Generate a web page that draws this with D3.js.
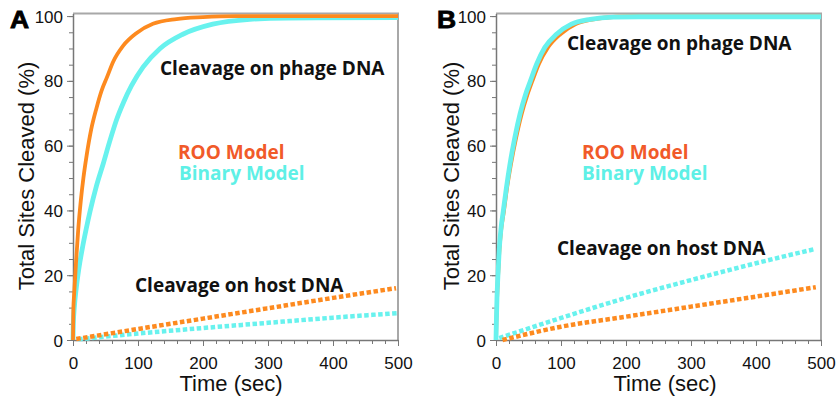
<!DOCTYPE html>
<html lang="en">
<head>
<meta charset="utf-8">
<title>Sites cleaved</title>
<script src="https://cdn.jsdelivr.net/npm/d3@7"></script>
<style>
  body { margin: 0; background: #fff; }
  .tick text { font-family: "Liberation Sans", Arial, sans-serif; font-size: 17px; fill: #111; }
  .note { font-family: "Open Sans", sans-serif; font-weight: 700; }
</style>
</head>
<body>
<script>

// tick values
var yTicks = [0, 20, 40, 60, 80, 100];
var xTicks = [0, 100, 200, 300, 400, 500];

// panel A, [time (sec), % cleaved]
var aPhageRoo = [[0,0],[0.5,9],[2,15],[5,25],[8,34],[12,43],[16,50],[21,57],[28,65],[36,71.5],[44,77],[52,81],[62,86],[77,90.8],[98,94.8],[123,97.6],[159,99.1],[200,99.7],[250,100],[500,100]];
var aPhageBin = [[0,0],[0.5,5],[2,10],[5,16],[9,22],[15,29],[20,34],[26,39.5],[36,47.5],[46.6,54.5],[56,61],[67,68],[78,73.5],[90,78.5],[108,84.3],[134,90],[169,94.4],[215,97.5],[272,99],[330,99.4],[500,99.5]];
var aHostRoo = [[5,0.3],[100,3.4],[200,6.6],[300,9.8],[400,13],[497,16]];
var aHostBin = [[8,0.2],[100,2],[200,3.7],[300,5.3],[400,6.9],[500,8.3]];

// panel B
var bPhageRoo = [[0,0],[0.5,5],[1.5,12],[3,19],[5,27],[8,34],[12,39.5],[17,47],[23,54.3],[31,62.5],[39.5,69.8],[48,75.5],[56,80],[66,85.2],[80,90.3],[99,94.4],[122,97.5],[150,99],[185,99.8],[220,100],[500,100]];
var bPhageBin = [[0,0],[0.5,5],[1.5,13],[3,20],[5,28],[8,35],[11,39.5],[16,47],[21.5,54.3],[29,62.5],[37,69.8],[45,75.5],[53,80],[62.6,85.2],[75,90.3],[93,94.4],[116,97.5],[145,99],[180,99.7],[220,99.8],[500,99.8]];
var bHostRoo = [[10,0],[100,4.1],[200,7.2],[300,10.3],[400,13.4],[492,16.3]];
var bHostBin = [[5,0.6],[100,6.8],[200,13],[300,18.5],[400,23.7],[489,28]];

var orange = "#fd8a1f";
var cyan = "#68f2ee";

var svg = d3.select("body").append("svg")
    .attr("width", 839)
    .attr("height", 398);

function panel(p) {
  var x = d3.scaleLinear().domain([0, 500]).range([p.left, p.right]);
  var y = d3.scaleLinear().domain([0, 100.8]).range([340, 13.5]);
  var g = svg.append("g");

  // frame top / right
  g.append("path")
    .attr("d", "M" + p.left + "," + y(100.8) + "H" + p.right + "V" + y(0))
    .attr("fill", "none").attr("stroke", "#a8a8a8").attr("stroke-width", 2);

  // minor ticks
  g.append("g").attr("transform", "translate(0,340)")
    .call(d3.axisBottom(x).tickValues(d3.range(0, 501, 20)).tickSize(4).tickFormat(""))
    .call(function(a) { a.select(".domain").remove(); a.selectAll("line").attr("stroke", "#777"); });
  g.append("g").attr("transform", "translate(" + p.left + ",0)")
    .call(d3.axisLeft(y).tickValues(d3.range(0, 101, 5)).tickSize(4).tickFormat(""))
    .call(function(a) { a.select(".domain").remove(); a.selectAll("line").attr("stroke", "#777"); });

  // major axes
  var xa = g.append("g").attr("transform", "translate(0,340)")
    .call(d3.axisBottom(x).tickValues(xTicks).tickSize(6).tickSizeOuter(0).tickPadding(11));
  var ya = g.append("g").attr("transform", "translate(" + p.left + ",0)")
    .call(d3.axisLeft(y).tickValues(yTicks).tickSize(6).tickSizeOuter(0).tickPadding(4));
  [xa, ya].forEach(function(a) {
    a.select(".domain").attr("stroke", "#777").attr("stroke-width", 1.5);
    a.selectAll("line").attr("stroke", "#777");
  });
  ya.selectAll("text").attr("dy", "0.36em");

  var line = d3.line()
    .x(function(d) { return x(d[0]); })
    .y(function(d) { return y(d[1]); })
    .curve(d3.curveMonotoneX);

  // host DNA, square dotted
  [[p.hostBin, cyan], [p.hostRoo, orange]].forEach(function(s) {
    g.append("path").datum(s[0])
      .attr("d", line)
      .attr("fill", "none")
      .attr("stroke", s[1])
      .attr("stroke-width", 4.5)
      .attr("stroke-dasharray", "4.5,2.5");
  });

  // phage DNA, solid
  p.phageOrder.forEach(function(k) {
    var s = k == "roo" ? [p.phageRoo, orange, 3.8] : [p.phageBin, cyan, 4.8];
    g.append("path").datum(s[0])
      .attr("d", line)
      .attr("fill", "none")
      .attr("stroke", s[1])
      .attr("stroke-width", s[2])
      .attr("stroke-linejoin", "round");
  });

  // axis titles
  g.append("text")
    .attr("transform", "translate(" + p.yTitleX + ",176) rotate(-90)")
    .attr("text-anchor", "middle")
    .style("font-family", "Liberation Sans, Arial, sans-serif")
    .style("font-size", "22px").attr("fill", "#111")
    .text("Total Sites Cleaved (%)");
  g.append("text")
    .attr("x", p.xTitleX).attr("y", 391)
    .attr("text-anchor", "middle")
    .style("font-family", "Liberation Sans, Arial, sans-serif")
    .style("font-size", "22px").attr("fill", "#111")
    .text("Time (sec)");

  // panel letter
  g.append("text")
    .attr("transform", "translate(" + p.letterX + ",28) scale(1.15,1)")
    .style("font-family", "Liberation Sans, Arial, sans-serif")
    .style("font-size", "23px").style("font-weight", "bold")
    .attr("stroke", "#000").attr("stroke-width", 0.8)
    .text(p.letter);

  // annotations
  p.notes.forEach(function(n) {
    g.append("text").attr("class", "note")
      .attr("x", n[1]).attr("y", n[2])
      .style("font-size", n[4] + "px")
      .attr("fill", n[3])
      .text(n[0]);
  });
}

panel({
  letter: "A", letterX: 10, left: 73, right: 398, yTitleX: 34, xTitleX: 231,
  phageRoo: aPhageRoo, phageBin: aPhageBin, hostRoo: aHostRoo, hostBin: aHostBin,
  phageOrder: ["bin", "roo"],
  notes: [
    ["Cleavage on phage DNA", 160, 75, "#111", 19],
    ["ROO Model", 178, 159, "#f15a29", 19],
    ["Binary Model", 179, 180, "#5ef0e6", 19],
    ["Cleavage on host DNA", 135, 292, "#111", 19]
  ]
});

panel({
  letter: "B", letterX: 437, left: 496, right: 821, yTitleX: 459, xTitleX: 665,
  phageRoo: bPhageRoo, phageBin: bPhageBin, hostRoo: bHostRoo, hostBin: bHostBin,
  phageOrder: ["roo", "bin"],
  notes: [
    ["Cleavage on phage DNA", 567, 50, "#111", 19],
    ["ROO Model", 582, 159, "#f15a29", 19],
    ["Binary Model", 582, 180, "#5ef0e6", 19],
    ["Cleavage on host DNA", 557, 255, "#111", 19]
  ]
});

</script>
</body>
</html>
